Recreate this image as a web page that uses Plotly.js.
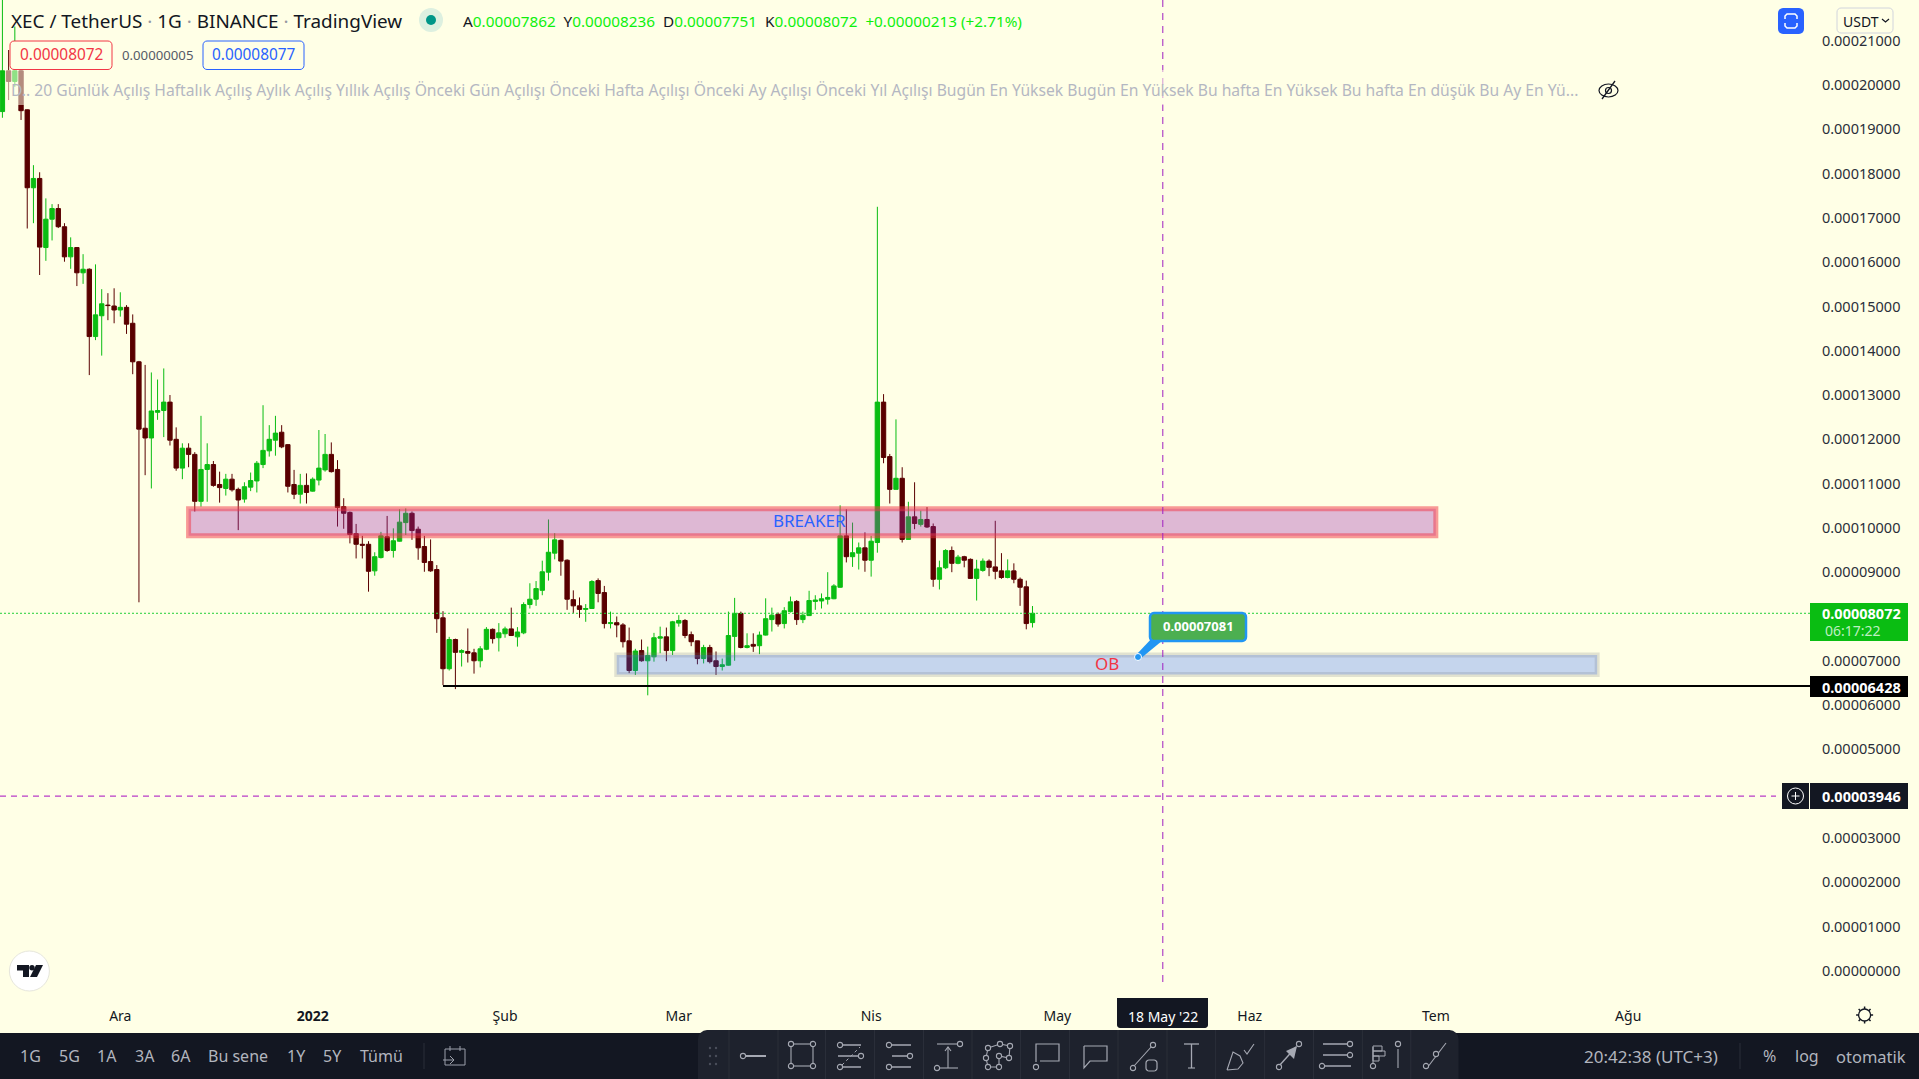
<!DOCTYPE html>
<html><head><meta charset="utf-8">
<script src="https://cdn.plot.ly/plotly-3.0.1.min.js"></script>
<style>html,body{margin:0;padding:0;background:#FFFFE6;overflow:hidden}#c{width:1919px;height:1079px}</style>
</head><body><div id="c"></div>
<script>
const priceUnit = 1e-5;
const firstDay = '2021-11-12';
const open = [
19.40,20.32,20.08,20.32,19.44,17.68,17.89,16.33,16.97,17.21,
16.80,16.12,16.33,15.76,15.84,14.32,14.79,15.03,15.01,14.92,
14.98,14.62,13.75,12.25,12.03,12.61,12.65,12.84,12.00,11.35,
11.80,11.66,10.60,11.32,11.43,10.98,10.89,11.10,10.87,10.65,
10.92,11.06,11.43,11.74,11.98,12.16,11.88,10.98,10.76,10.96,
10.83,11.08,11.31,11.66,11.32,10.48,10.35,9.87,9.63,9.63,
9.03,9.33,9.80,9.49,9.70,10.12,10.33,9.97,9.58,9.24,
9.06,7.97,6.82,7.48,7.19,7.21,7.18,7.00,7.26,7.71,
7.52,7.61,7.72,7.54,7.63,8.27,8.39,8.59,9.00,9.43,
9.72,9.27,8.38,8.24,8.16,8.18,8.81,8.54,7.84,7.86,
7.81,7.45,6.78,7.23,7.00,7.09,7.51,7.54,7.23,7.85,
7.91,7.59,7.45,7.05,7.30,7.00,6.87,6.90,7.55,8.07,
7.30,7.37,7.34,7.58,7.93,8.05,7.84,8.11,8.34,7.93,
8.02,8.34,8.35,8.39,8.40,8.66,9.82,9.35,9.43,9.55,
9.27,9.67,12.84,11.61,10.87,11.12,9.74,10.25,10.08,10.19,
10.03,8.84,9.10,9.49,9.20,9.35,9.29,8.86,9.04,9.25,
9.12,9.03,8.88,9.03,8.84,8.67,7.862];
const high = [
22.3,20.79,21.32,20.49,19.45,18.19,18.03,17.44,17.31,17.31,
16.88,16.56,16.34,16.18,15.86,15.95,15.39,15.30,15.41,15.32,
15.03,14.82,13.77,13.68,13.51,13.35,13.60,13.00,12.27,11.91,
11.91,11.71,12.53,11.91,11.51,11.27,11.22,11.22,10.91,11.03,
11.25,11.51,12.77,12.32,12.53,12.32,11.89,11.31,11.22,11.23,
11.14,12.21,12.12,11.93,11.53,10.67,10.37,10.09,9.82,9.70,
9.45,9.91,10.27,9.99,10.42,10.44,10.37,10.03,9.82,9.74,
9.16,8.12,7.54,7.50,7.26,7.73,7.27,7.33,7.76,7.73,
7.85,7.77,8.20,7.76,8.32,8.75,8.80,9.26,10.19,9.88,
9.74,9.29,8.59,8.43,8.28,8.82,8.86,8.69,8.11,8.00,
7.85,7.75,7.27,7.48,7.32,7.63,7.77,7.75,7.90,8.03,
7.94,7.66,7.45,7.36,7.36,7.21,7.05,8.11,8.42,8.11,
7.62,7.62,7.66,8.41,8.20,8.09,8.21,8.45,8.37,8.11,
8.58,8.48,8.52,9.00,8.73,10.51,10.42,10.12,9.67,9.90,
9.82,17.25,13.02,11.67,12.45,11.37,10.59,11.03,10.39,10.47,
10.10,9.26,9.52,9.58,9.39,9.37,9.31,9.28,9.31,9.29,
10.16,9.43,9.29,9.20,8.88,8.81,8.236];
const low = [
19.26,19.66,19.96,19.21,16.76,16.88,15.71,16.03,16.49,16.77,
16.01,15.85,15.46,15.51,13.45,14.24,13.89,14.69,14.62,14.77,
14.38,13.47,8.32,11.19,10.89,12.44,12.05,11.86,11.29,11.10,
11.37,10.37,10.48,10.59,10.93,10.57,10.73,10.82,9.95,10.57,
10.83,10.80,11.35,11.61,11.63,11.80,10.80,10.65,10.55,10.55,
10.82,10.96,11.27,11.25,10.03,9.98,9.65,9.31,9.31,8.56,
8.92,9.31,9.46,9.33,9.69,9.84,9.73,9.28,9.01,9.01,
7.63,6.45,6.78,6.36,6.87,6.96,6.71,6.85,7.24,7.39,
7.21,7.52,7.56,7.32,7.60,8.18,8.24,8.48,8.81,9.29,
8.92,8.15,8.08,7.97,7.88,8.17,8.32,7.73,7.73,7.53,
7.30,6.72,6.68,6.98,6.22,6.98,7.17,6.99,7.13,7.77,
7.51,7.33,6.92,6.94,6.94,6.68,6.78,6.89,7.00,7.28,
7.28,7.20,7.15,7.57,7.66,7.77,7.73,8.09,7.81,7.85,
8.01,8.15,8.18,8.27,8.39,8.65,9.22,9.12,9.06,9.01,
8.90,9.44,11.46,10.55,10.87,9.67,9.74,9.97,10.03,10.00,
8.67,8.61,9.07,9.00,9.18,9.11,8.85,8.36,9.01,8.91,
8.84,8.85,8.86,8.75,8.24,7.71,7.751];
const close = [
20.32,20.08,20.32,19.42,17.68,17.89,16.34,16.97,17.21,16.80,
16.12,16.33,15.76,15.84,14.32,14.81,15.06,15.02,14.92,14.98,
14.60,13.75,12.23,12.03,12.64,12.65,12.84,11.98,11.35,11.80,
11.66,10.60,11.32,11.43,10.96,10.91,11.10,10.86,10.63,10.93,
11.07,11.46,11.75,12.00,12.14,11.83,10.94,10.76,10.96,10.80,
11.10,11.35,11.66,11.27,10.46,10.33,9.85,9.63,9.61,9.02,
9.35,9.82,9.49,9.71,10.13,10.33,9.94,9.55,9.22,9.03,
7.95,6.82,7.48,7.19,7.23,7.17,7.00,7.27,7.71,7.50,
7.63,7.72,7.57,7.65,8.27,8.39,8.63,9.01,9.45,9.73,
9.25,8.39,8.24,8.16,8.18,8.79,8.52,7.84,7.86,7.81,
7.43,6.78,7.22,7.00,7.12,7.52,7.54,7.23,7.88,7.91,
7.57,7.43,7.05,7.30,6.98,6.87,6.91,7.57,8.07,7.30,
7.34,7.33,7.58,7.95,8.03,7.83,8.13,8.33,7.93,8.03,
8.36,8.37,8.40,8.43,8.69,9.82,9.35,9.44,9.55,9.27,
9.70,12.84,11.59,10.87,11.12,9.74,10.25,10.10,10.19,10.02,
8.84,9.10,9.49,9.20,9.34,9.27,8.86,9.07,9.25,9.11,
9.02,8.88,9.03,8.84,8.66,7.84,8.072];

const priceTicks = [21,20,19,18,17,16,15,14,13,12,11,10,9,7,6,5,3,2,1,0];
const monthTicks = ['2021-12-01','2022-01-01','2022-02-01','2022-03-01','2022-04-01','2022-05-01','2022-06-01','2022-07-01','2022-08-01'];
const monthLabels = ['Ara','<b>2022</b>','Şub','Mar','Nis','May','Haz','Tem','Ağu'];
const rangeButtons = ['1G','5G','1A','3A','6A','Bu sene','1Y','5Y','Tümü'];
const lastPrice = 8.072, supportLevel = 6.428, alertLevel = 3.946, noteLevel = 7.081;
const crosshairDay = '2022-05-18';
const breakerZone = {x0:'2021-12-12', x1:'2022-07-01', y0:9.82, y1:10.43};
const obZone = {x0:'2022-02-19', x1:'2022-07-27', y0:6.69, y1:7.13};

const W=1919,H=1079,BG='#FFFFE6',FONT='"Noto Sans", sans-serif';
const X=p=>p/W, Y=p=>1-p/H;
const up='#0ABD12', down='#5A0000';
const xStart='2021-11-11 14:38', xEnd='2022-08-30 07:12';
const dates = open.map((_,i)=>{const d=new Date(firstDay+'T00:00:00Z');d.setUTCDate(d.getUTCDate()+i);return d.toISOString().slice(0,10);});
const sc = a=>a.map(v=>v*priceUnit);

const shapes=[], ann=[];
const pline=(x1,y1,x2,y2,c,w,dash)=>shapes.push({type:'line',xref:'paper',yref:'paper',x0:X(x1),y0:Y(y1),x1:X(x2),y1:Y(y2),line:{color:c,width:w===undefined?1.5:w,dash:dash||'solid'}});
const prect=(x1,y1,x2,y2,fill,c,w)=>shapes.push({type:'rect',xref:'paper',yref:'paper',x0:X(x1),y0:Y(y1),x1:X(x2),y1:Y(y2),fillcolor:fill||'rgba(0,0,0,0)',line:{color:c||'rgba(0,0,0,0)',width:c?(w||1):0}});
const pcirc=(cx,cy,r,fill,c,w)=>shapes.push({type:'circle',xref:'paper',yref:'paper',x0:X(cx-r),y0:Y(cy-r),x1:X(cx+r),y1:Y(cy+r),fillcolor:fill||'rgba(0,0,0,0)',line:{color:c||'rgba(0,0,0,0)',width:c?(w||1):0}});
const ppoly=(pts,fill,c,w,closed)=>{let s='M'+pts.map(p=>X(p[0])+','+Y(p[1])).join(' L')+(closed?' Z':'');shapes.push({type:'path',xref:'paper',yref:'paper',path:s,fillcolor:fill||'rgba(0,0,0,0)',line:{color:c||'rgba(0,0,0,0)',width:c?(w||1):0}});};
const rr=(x1,y1,x2,y2,r)=>{const p=[];const a=[[x2-r,y1+r,-90],[x2-r,y2-r,0],[x1+r,y2-r,90],[x1+r,y1+r,180]];a.forEach(q=>{for(let k=0;k<=4;k++){const t=(q[2]+k*22.5)*Math.PI/180;p.push([q[0]+r*Math.cos(t),q[1]+r*Math.sin(t)]);}});return p;};
const T=(t,x,y,size,color,anchor,extra)=>ann.push(Object.assign({text:t,xref:'paper',yref:'paper',x:X(x),y:Y(y),showarrow:false,xanchor:anchor||'center',yanchor:'middle',font:{family:FONT,size:size,color:color},borderpad:0,borderwidth:0},extra||{}));

// zones (drawn over the candles with transparency)
shapes.push({type:'rect',xref:'x',yref:'y',x0:breakerZone.x0,x1:breakerZone.x1,y0:breakerZone.y0*priceUnit,y1:breakerZone.y1*priceUnit,fillcolor:'rgba(156,39,176,0.33)',line:{color:'rgba(242,54,69,0.5)',width:5}});
shapes.push({type:'rect',xref:'x',yref:'y',x0:obZone.x0,x1:obZone.x1,y0:obZone.y0*priceUnit,y1:obZone.y1*priceUnit,fillcolor:'rgba(41,98,255,0.27)',line:{color:'rgba(120,123,134,0.22)',width:5}});
// price lines
shapes.push({type:'line',xref:'paper',yref:'y',x0:0,x1:X(1810),y0:lastPrice*priceUnit,y1:lastPrice*priceUnit,line:{color:'#22D038',width:1,dash:'2px,2px'}});
shapes.push({type:'line',xref:'x',yref:'y',x0:'2022-01-22',x1:xEnd,y0:supportLevel*priceUnit,y1:supportLevel*priceUnit,line:{color:'#000000',width:2}});
shapes.push({type:'line',xref:'paper',yref:'y',x0:0,x1:X(1776),y0:alertLevel*priceUnit,y1:alertLevel*priceUnit,line:{color:'#B93CC8',width:1.2,dash:'6px,5px'}});
shapes.push({type:'line',xref:'x',yref:'paper',x0:crosshairDay,x1:crosshairDay,y0:Y(0),y1:Y(995),line:{color:'#A020C0',width:1,dash:'7px,6px'}});

// callout
ppoly([[1136,655],[1154,636],[1168,636],[1140,659]],'#2196F3',null,0,true);
ppoly(rr(1150,613,1246,641,4),'#4CAF50','#2196F3',2.5,true);
shapes.push({type:'circle',xref:'paper',yref:'paper',x0:X(1134.5),y0:Y(653.5),x1:X(1141.5),y1:Y(660.5),fillcolor:'#2196F3',line:{color:'#FFFFFF',width:1}});
T('<b>0.0000'+Math.round(noteLevel*1000)+'</b>',1198,626,13,'#FFFFFF');

// zone labels
ann.push({text:'BREAKER',xref:'x',yref:'y',x:'2022-03-22',y:10.17*priceUnit,showarrow:false,font:{family:FONT,size:17,color:'#2962FF'},xanchor:'center',yanchor:'middle'});
ann.push({text:'OB',xref:'x',yref:'y',x:'2022-05-09',y:6.93*priceUnit,showarrow:false,font:{family:FONT,size:17,color:'#F23645'},xanchor:'center',yanchor:'middle'});

// legend fade
prect(6,70,1590,105,'rgba(255,255,230,0.55)');
// header
T('XEC / TetherUS <span style="color:#9598A1">·</span> 1G <span style="color:#9598A1">·</span> BINANCE <span style="color:#9598A1">·</span> TradingView',11,21,18.9,'#131722','left');
pcirc(431,20,12,'#DDF0E0');pcirc(431,20,5,'#009688');
const g=s=>'<span style="color:#0DF00D">'+s+'</span>';
T('A'+g('0.00007862')+'&nbsp; Y'+g('0.00008236')+'&nbsp; D'+g('0.00007751')+'&nbsp; K'+g('0.00008072')+'&nbsp; '+g('+0.00000213 (+2.71%)'),463,21,15.3,'#131722','left');
ppoly(rr(10,41,112,69.5,4),BG,'#F23645',1,true);
T('0.00008072',61,55,15.4,'#F23645');
T('0.00000005',157,55,13.2,'#555A66');
ppoly(rr(203,41,304,69.5,4),BG,'#2962FF',1,true);
T('0.00008077',254,55,15.4,'#2962FF');
T('D.. 20 Günlük Açılış Haftalık Açılış Aylık Açılış Yıllık Açılış Önceki Gün Açılışı Önceki Hafta Açılışı Önceki Ay Açılışı Önceki Yıl Açılışı Bugün En Yüksek Bugün En Yüksek Bu hafta En Yüksek Bu hafta En düşük Bu Ay En Yü...',11,90,15.66,'#B4B7C2','left');
// eye-off
shapes.push({type:'circle',xref:'paper',yref:'paper',x0:X(1599),y0:Y(84),x1:X(1618),y1:Y(97),fillcolor:'rgba(0,0,0,0)',line:{color:'#131722',width:1.2}});
pcirc(1608.5,90.5,3,'rgba(0,0,0,0)','#131722',1.2);pline(1602,99,1615,81,'#131722',1.3);
// top right
ppoly(rr(1778,8,1804,34,5),'#2962FF',null,0,true);
ppoly([[1789,14],[1795,14],[1797,16],[1797,19]],null,'#FFFFFF',1.5);ppoly([[1785,19],[1785,16],[1787,14],[1789,14]],null,'#FFFFFF',1.5);
ppoly([[1785,23],[1785,26],[1787,28],[1795,28],[1797,26],[1797,23]],null,'#FFFFFF',1.5);
ppoly(rr(1837,8,1893,33,4),BG,'#D1D4DC',1,true);
T('USDT',1861,21,14,'#131722');
ppoly([[1882,19],[1885.5,22],[1889,19]],null,'#131722',1.2);
// price labels
prect(1810,603,1908,641,up);
T('<b>0.00008072</b>',1861,613,14.5,'#FFFFFF');T('06:17:22',1853,630.5,14,'#BFEFC2');
prect(1810,676,1908,697,'#000000');
T('<b>0.00006428</b>',1861,686.5,14.5,'#FFFFFF');
prect(1810,783,1908,809,'#131722');T('<b>0.00003946</b>',1861,796,14.5,'#FFFFFF');
prect(1782,783,1809,809,'#131722');pcirc(1795.5,796,8,'rgba(0,0,0,0)','#FFFFFF',1);pline(1791.5,796,1799.5,796,'#FFFFFF',1);pline(1795.5,792,1795.5,800,'#FFFFFF',1);
// crosshair date
ppoly(rr(1117,990,1208,1028,3),'#131722',null,0,true);prect(1117,985,1208,998,BG);
T('18 May \'22',1162.5,1016,14,'#FFFFFF');
// gear
pcirc(1864.6,1015,6,'rgba(0,0,0,0)','#131722',1.3);
[[0,-1],[0,1],[1,0],[-1,0],[.7,.7],[-.7,.7],[.7,-.7],[-.7,-.7]].forEach(d=>pline(1864.6+d[0]*6,1015+d[1]*6,1864.6+d[0]*8.5,1015+d[1]*8.5,'#131722',1.5));
// logo
pcirc(29.4,971,20,'#FFFFFF','#E6E6DC',1);
ppoly([[17,965],[29,965],[29,977],[23,977],[23,970.5],[17,970.5]],'#131722',null,0,true);
pcirc(32,967.7,2.7,'#131722');
ppoly([[36,965],[43,965],[37,977],[30,977]],'#131722',null,0,true);

// bottom bar
prect(0,1033,W,H,'#131722');
const btnX=[30.6,69,107,144.5,181,237.6,296,332.5,381];
rangeButtons.forEach((b,i)=>T(b,btnX[i],1056,16,'#B2B5BE'));
pline(424,1043,424,1069,'#2A2E39',1);
prect(445,1049,465,1065,null,'#9CA0AB',1);pline(450,1046,450,1051,'#9CA0AB',1);pline(460,1046,460,1051,'#9CA0AB',1);
pline(443,1060,454,1060,'#9CA0AB',1);ppoly([[450,1056],[454,1060],[450,1064]],null,'#9CA0AB',1);
T('20:42:38 (UTC+3)',1650.5,1056,17,'#B2B5BE');
pline(1740,1043,1740,1069,'#2A2E39',1);
T('%',1769,1056,16,'#B2B5BE');T('log',1807,1056,16,'#B2B5BE');T('otomatik',1871,1056,16.5,'#B2B5BE');
// floating toolbar
ppoly(rr(698,1030,1458.5,1095,9),'#1E222D',null,0,true);
[729,778,825.5,874.5,923.5,972,1020.5,1069.5,1118,1167,1215.6,1264.6,1313.5,1362.4,1410.8].forEach(x=>pline(x,1030,x,1079,'#2A2E39',1));
[[710,1048],[716,1048],[710,1056],[716,1056],[710,1064],[716,1064]].forEach(p=>pcirc(p[0],p[1],1.2,'#4A4E5A'));
const ic='#A6A9B3';
const node=(x,y)=>pcirc(x,y,2.6,'#1E222D',ic,1.1);
const L=(a,b,c,d,w)=>pline(a,b,c,d,ic,w===undefined?1.1:w);
// 1
L(746,1056,766,1056,2);node(743,1056);
// 2
L(794,1044,810,1044);L(794,1066,810,1066);L(791,1047,791,1063);L(813,1047,813,1063);node(791,1044);node(813,1044);node(791,1066);node(813,1066);
// 3
L(842,1045,861,1045,1.5);L(838,1056,858,1056,1.5);L(842,1067,861,1067,1.5);node(840,1045);node(861,1056);node(840,1067);shapes.push({type:'line',xref:'paper',yref:'paper',x0:X(842),y0:Y(1065),x1:X(860),y1:Y(1047),line:{color:ic,width:1,dash:'dot'}});
// 4
L(892,1045,911,1045,1.5);L(892,1056,907,1056,1.5);L(892,1067,911,1067,1.5);node(889,1045);node(910,1056);node(889,1067);
// 5
L(937,1044,960,1044);L(948,1047,948,1068);ppoly([[945,1051],[948,1047],[951,1051]],null,ic,1.1);L(940,1068,958,1068);node(937,1068);node(960,1044);
// 6
ppoly([[988,1048],[1000,1044],[1010,1046],[1009,1058],[999,1056],[999,1067],[988,1067],[986,1058],[988,1048]],null,ic,1.1);
[[988,1048],[1000,1044],[1010,1046],[1009,1058],[999,1056],[999,1067],[988,1067],[986,1058]].forEach(p=>node(p[0],p[1]));
// 7
ppoly([[1036,1062],[1036,1044],[1059,1044],[1059,1061],[1040,1061]],null,ic,1.2);node(1036,1067);
// 8
ppoly([[1084,1046],[1107,1046],[1107,1061],[1090,1061],[1084,1068],[1084,1046]],null,ic,1.2);
// 9
L(1134,1066,1152,1046);node(1133,1068);node(1153,1045);ppoly(rr(1146,1060,1157,1071,3),null,ic,1.2,true);
// 10
L(1184,1044,1199,1044,1.3);L(1191.5,1044,1191.5,1068,1.3);L(1188,1068,1195,1068);
// 11
ppoly([[1227,1070],[1233,1052],[1240,1056],[1243,1063],[1238,1069],[1227,1070]],null,ic,1.1);ppoly([[1244,1050],[1247,1054],[1254,1044]],null,ic,1.1);
// 12
L(1279,1066,1296,1047,1.4);node(1279,1067);node(1299,1044);ppoly([[1286,1051],[1297,1046],[1294,1059]],ic,null,0,true);
// 13
L(1323,1044,1347,1044,1.5);L(1323,1055,1347,1055,1.5);L(1324,1066,1351,1066,1.5);node(1350,1044);node(1350,1055);node(1322,1066);
// 14
L(1373,1047,1373,1063);node(1373,1066);prect(1373,1046,1382,1051,null,ic,1);prect(1373,1051,1385,1056,null,ic,1);prect(1373,1056,1379,1061,null,ic,1);
L(1398,1049,1398,1068);node(1398,1044);
// 15
L(1427,1068,1446,1043);node(1426,1066);node(1436,1054);

const data=[{
  type:'candlestick',x:dates,open:sc(open),high:sc(high),low:sc(low),close:sc(close),
  increasing:{line:{color:up,width:1},fillcolor:up},
  decreasing:{line:{color:down,width:1},fillcolor:down},
  whiskerwidth:0,hoverinfo:'skip',showlegend:false
}];
const layout={
  width:W,height:H,margin:{l:0,r:0,t:0,b:0,pad:0},
  paper_bgcolor:BG,plot_bgcolor:BG,showlegend:false,dragmode:false,
  boxgap:0.3,boxgroupgap:0,
  font:{family:FONT,color:'#131722',size:14},
  xaxis:{type:'date',domain:[0,1810/W],range:[xStart,xEnd],
    rangeslider:{visible:false},showgrid:false,zeroline:false,showline:false,
    tickmode:'array',tickvals:monthTicks,ticktext:monthLabels,ticks:'outside',ticklen:5,tickcolor:'rgba(0,0,0,0)',
    tickfont:{family:FONT,size:14,color:'#131722'}},
  yaxis:{domain:[1-998/H,1],side:'right',range:[-0.614*priceUnit,21.919*priceUnit],
    showgrid:false,zeroline:false,showline:false,
    tickmode:'array',tickvals:sc(priceTicks),ticktext:priceTicks.map(v=>(v*priceUnit).toFixed(8)),
    ticks:'outside',ticklen:8,tickcolor:'rgba(0,0,0,0)',
    tickfont:{family:FONT,size:14.5,color:'#2A2E39'}},
  shapes:shapes,annotations:ann
};
Plotly.newPlot('c',data,layout,{staticPlot:true,displayModeBar:false,responsive:false});
</script></body></html>
